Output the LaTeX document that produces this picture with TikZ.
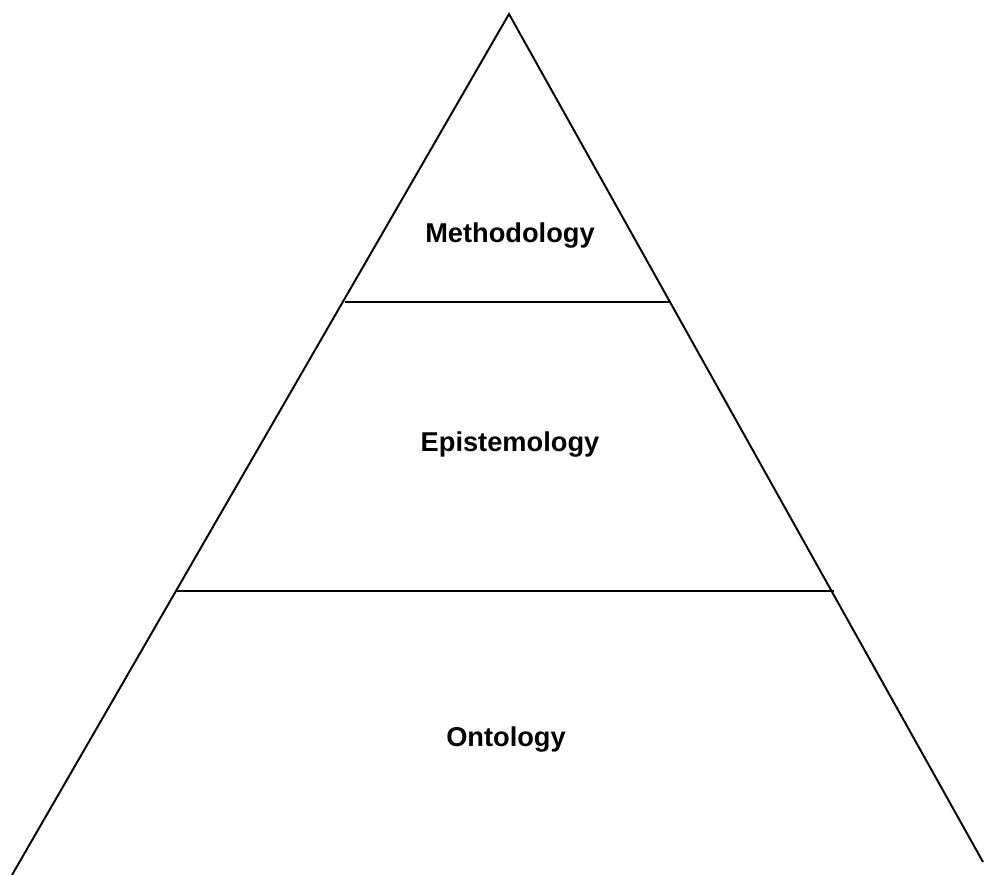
\documentclass[tikz,border=0pt]{standalone}
\usepackage{fontspec}
\setmainfont{Liberation Sans}
\usetikzlibrary{positioning,calc}

\tikzset{
  layer/.style={font=\fontsize{15.5}{18}\selectfont\bfseries},
  edge/.style={line width=1.1pt}
}

\begin{document}
\begin{tikzpicture}[x=0.02cm, y=-0.02cm]
\useasboundingbox (0,0) rectangle (984,875);

% 三角形
\coordinate (apex) at (509,14);
\coordinate (bl) at (12,875);
\coordinate (br) at (983,862);
\draw[edge] (bl) -- (apex) -- (br);

% 分层线
\coordinate (m1) at (345,302);
\coordinate (m2) at (669,302);
\coordinate (e1) at (177,591);
\coordinate (e2) at (834,591);
\draw[edge] (m1) -- (m2);
\draw[edge] (e1) -- (e2);

% 标签
\node[layer] (method) at (510,236) {Methodology};
\node[layer] (episte) at (510,445) {Epistemology};
\node[layer] (onto) at (506,740) {Ontology};
\end{tikzpicture}
\end{document}
